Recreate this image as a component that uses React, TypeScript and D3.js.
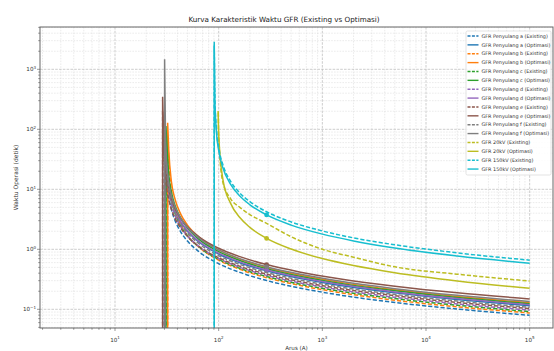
import React from "react";
import * as d3 from "d3";

// current grid (A) for the feeder relays and for the 20kV / 150kV relays
const feederCurrent = [30, 31, 33, 35, 38, 43, 50, 65, 100, 160, 290, 600, 1500, 5000, 20000, 100000];
const hvCurrent = [92, 95, 100, 110, 130, 160, 200, 290, 500, 1000, 2000, 5000, 20000, 100000];

// operating times (s)
const timeA_Existing = [null, 23.7, 7.6, 4.64, 3.0, 1.96, 1.37, 0.902, 0.576, 0.412, 0.302, 0.227, 0.172, 0.13, 0.101, 0.0795];
const timeA_Optimasi = [null, 34.4, 11.0, 6.72, 4.34, 2.83, 1.99, 1.31, 0.835, 0.597, 0.438, 0.329, 0.25, 0.189, 0.146, 0.115];
const timeB_Existing = [null, null, 30.9, 9.07, 4.56, 2.61, 1.71, 1.07, 0.66, 0.464, 0.336, 0.251, 0.189, 0.142, 0.11, 0.0867];
const timeB_Optimasi = [null, null, 45.7, 13.4, 6.75, 3.86, 2.53, 1.58, 0.977, 0.687, 0.498, 0.372, 0.281, 0.211, 0.163, 0.128];
const timeC_Existing = [null, null, 12.9, 6.63, 3.95, 2.45, 1.68, 1.08, 0.679, 0.482, 0.352, 0.264, 0.2, 0.151, 0.117, 0.0918];
const timeC_Optimasi = [null, null, 17.3, 8.93, 5.32, 3.3, 2.26, 1.45, 0.916, 0.65, 0.474, 0.355, 0.269, 0.203, 0.157, 0.124];
const timeD_Existing = [null, 28.9, 9.27, 5.65, 3.66, 2.39, 1.67, 1.1, 0.703, 0.503, 0.368, 0.277, 0.21, 0.159, 0.123, 0.097];
const timeD_Optimasi = [null, 35.6, 11.4, 6.95, 4.49, 2.93, 2.06, 1.35, 0.864, 0.618, 0.453, 0.341, 0.258, 0.195, 0.151, 0.119];
const timeE_Existing = [22.3, 12.4, 6.68, 4.66, 3.27, 2.26, 1.64, 1.11, 0.722, 0.522, 0.385, 0.291, 0.221, 0.168, 0.13, 0.103];
const timeE_Optimasi = [32.2, 17.9, 9.66, 6.74, 4.73, 3.27, 2.37, 1.6, 1.04, 0.754, 0.557, 0.42, 0.32, 0.242, 0.188, 0.149];
const timeF_Existing = [null, 32.3, 10.3, 6.3, 4.07, 2.66, 1.87, 1.23, 0.783, 0.56, 0.411, 0.309, 0.234, 0.177, 0.137, 0.108];
const timeF_Optimasi = [null, 40.3, 12.9, 7.88, 5.09, 3.32, 2.33, 1.53, 0.979, 0.7, 0.513, 0.386, 0.293, 0.221, 0.171, 0.135];
const time20_Existing = [null, null, 75, 13, 7.0, 5.0, 3.8, 2.7, 1.62, 1.0, 0.74, 0.51, 0.385, 0.296];
const time20_Optimasi = [null, null, 82.4, 14.4, 5.88, 3.38, 2.32, 1.52, 1.01, 0.7, 0.536, 0.407, 0.297, 0.224];
const time150_Existing = [324, 105, 50.2, 25.5, 13.7, 8.68, 6.22, 4.22, 2.86, 2.02, 1.55, 1.19, 0.871, 0.66];
const time150_Optimasi = [288, 92.8, 44.6, 22.6, 12.2, 7.7, 5.52, 3.74, 2.53, 1.79, 1.38, 1.05, 0.773, 0.585];

const seriesLabels = [
  "GFR Penyulang a (Existing)", "GFR Penyulang a (Optimasi)",
  "GFR Penyulang b (Existing)", "GFR Penyulang b (Optimasi)",
  "GFR Penyulang c (Existing)", "GFR Penyulang c (Optimasi)",
  "GFR Penyulang d (Existing)", "GFR Penyulang d (Optimasi)",
  "GFR Penyulang e (Existing)", "GFR Penyulang e (Optimasi)",
  "GFR Penyulang f (Existing)", "GFR Penyulang f (Optimasi)",
  "GFR 20kV (Existing)", "GFR 20kV (Optimasi)",
  "GFR 150kV (Existing)", "GFR 150kV (Optimasi)",
];
const seriesTimes = [
  timeA_Existing, timeA_Optimasi, timeB_Existing, timeB_Optimasi,
  timeC_Existing, timeC_Optimasi, timeD_Existing, timeD_Optimasi,
  timeE_Existing, timeE_Optimasi, timeF_Existing, timeF_Optimasi,
  time20_Existing, time20_Optimasi, time150_Existing, time150_Optimasi,
];
// pickup current (A) and the first (peak) time just above pickup
const pickupCurrent = [30.1, 30.1, 32.2, 32.2, 31.0, 31.0, 30.1, 30.1, 28.8, 28.8, 30.1, 30.1, 99.2, 98.8, 90.6, 90.6];
const peakTime = [60, 85, 75, 129, 55, 113, 65, 95, 200, 349, 110, 1468, 190, 202, 2500, 2880];
const faultCurrent = 290;

const colors = ["#1f77b4", "#ff7f0e", "#2ca02c", "#9467bd", "#8c564b", "#7f7f7f", "#bcbd22", "#17becf"];

const W = 554;
const H = 351;
const plot = { left: 40, right: 553, top: 27, bottom: 328 };
const font = "DejaVu Sans, sans-serif";

export default function App() {
  const x = d3.scaleLog().domain([1.89, 167900]).range([plot.left, plot.right]);
  const y = d3.scaleLog().domain([0.0488, 5070]).range([plot.bottom, plot.top]);

  const isMajor = (v: number) => Math.abs(Math.log10(v) - Math.round(Math.log10(v))) < 1e-9;
  const xTicks = x.ticks();
  const yTicks = y.ticks();

  const line = d3
    .line<[number, number]>()
    .x((d) => d[0])
    .y((d) => d[1])
    .curve(d3.curveMonotoneX);

  const curves = seriesLabels.map((label, i) => {
    const hv = i >= 12;
    const grid = hv ? hvCurrent : feederCurrent;
    const times = seriesTimes[i];
    const pts: [number, number][] = [[x(pickupCurrent[i]), y(peakTime[i])]];
    grid.forEach((c, k) => {
      const t = times[k];
      if (t != null && c > pickupCurrent[i]) pts.push([x(c), y(t)]);
    });
    let d = line(pts) || "";
    // relays below pickup drop off the log axis: vertical line to the bottom
    const drop = i < 12 || i >= 14;
    if (drop) d = `M${x(pickupCurrent[i])},${plot.bottom + 10}` + d.replace(/^M/, "L");
    const k = grid.indexOf(faultCurrent);
    return {
      label,
      d,
      color: colors[Math.floor(i / 2)],
      dashed: i % 2 === 0,
      marker: i % 2 === 1 ? [x(faultCurrent), y(times[k] as number)] : null,
    };
  });

  const legendX = 466;
  const legendY = 31;
  const rowH = 8.87;

  return (
    <svg
      width={W}
      height={H}
      style={{ position: "fixed", left: 0, top: 0, background: "#fff" }}
      fontFamily={font}
    >
      <defs>
        <clipPath id="plotClip">
          <rect x={plot.left} y={plot.top} width={plot.right - plot.left} height={plot.bottom - plot.top} />
        </clipPath>
      </defs>
      <rect width={W} height={H} fill="#fff" />

      {/* grid */}
      <g>
        {xTicks.map((v, i) => (
          <line
            key={"gx" + i}
            x1={x(v)}
            x2={x(v)}
            y1={plot.top}
            y2={plot.bottom}
            stroke={isMajor(v) ? "#b8b8b8" : "#d6d6d6"}
            strokeWidth={isMajor(v) ? 0.7 : 0.5}
            strokeDasharray={isMajor(v) ? "2.6,1.2" : "1.6,1.2"}
          />
        ))}
        {yTicks.map((v, i) => (
          <line
            key={"gy" + i}
            x1={plot.left}
            x2={plot.right}
            y1={y(v)}
            y2={y(v)}
            stroke={isMajor(v) ? "#b8b8b8" : "#d6d6d6"}
            strokeWidth={isMajor(v) ? 0.7 : 0.5}
            strokeDasharray={isMajor(v) ? "2.6,1.2" : "1.6,1.2"}
          />
        ))}
      </g>

      {/* curves */}
      <g clipPath="url(#plotClip)">
        {curves.map((c, i) => (
          <g key={"c" + i}>
            <path
              d={c.d}
              fill="none"
              stroke={c.color}
              strokeWidth={1.5}
              strokeDasharray={c.dashed ? "4.2,2" : undefined}
            />
            {c.marker && <circle cx={c.marker[0]} cy={c.marker[1]} r={2.4} fill={c.color} />}
          </g>
        ))}
      </g>

      {/* spines */}
      <rect
        x={plot.left}
        y={plot.top}
        width={plot.right - plot.left}
        height={plot.bottom - plot.top}
        fill="none"
        stroke="#666"
        strokeWidth={1}
      />

      {/* ticks */}
      {xTicks.map((v, i) => (
        <line
          key={"tx" + i}
          x1={x(v)}
          x2={x(v)}
          y1={plot.bottom}
          y2={plot.bottom + (isMajor(v) ? 3 : 1.8)}
          stroke="#555"
          strokeWidth={0.6}
        />
      ))}
      {yTicks.map((v, i) => (
        <line
          key={"ty" + i}
          x1={plot.left - (isMajor(v) ? 3 : 1.8)}
          x2={plot.left}
          y1={y(v)}
          y2={y(v)}
          stroke="#555"
          strokeWidth={0.6}
        />
      ))}
      {xTicks.filter(isMajor).map((v, i) => (
        <text key={"lx" + i} x={x(v)} y={342} fontSize={5.6} textAnchor="middle" fill="#333">
          10<tspan dy={-2.6} fontSize={4}>{Math.round(Math.log10(v))}</tspan>
        </text>
      ))}
      {yTicks.filter(isMajor).map((v, i) => {
        const e = Math.round(Math.log10(v));
        return (
          <text key={"ly" + i} x={36} y={y(v) + 2} fontSize={5.6} textAnchor="end" fill="#333">
            10<tspan dy={-2.6} fontSize={4}>{e < 0 ? "\u2212" + Math.abs(e) : e}</tspan>
          </text>
        );
      })}

      {/* labels */}
      <text x={284} y={21.5} fontSize={7.2} textAnchor="middle" fill="#222">
        Kurva Karakteristik Waktu GFR (Existing vs Optimasi)
      </text>
      <text x={(plot.left + plot.right) / 2} y={349.5} fontSize={5.6} textAnchor="middle" fill="#333">
        Arus (A)
      </text>
      <text
        transform={`translate(15.5,${(plot.top + plot.bottom) / 2}) rotate(-90)`}
        fontSize={6}
        textAnchor="middle"
        dominantBaseline="central"
        fill="#333"
      >
        Waktu Operasi (detik)
      </text>

      {/* legend */}
      <rect
        x={legendX}
        y={legendY}
        width={85}
        height={144}
        rx={1.5}
        fill="#fff"
        fillOpacity={0.85}
        stroke="#d0d0d0"
        strokeWidth={0.6}
      />
      {curves.map((c, i) => {
        const cy = legendY + 5 + i * rowH;
        return (
          <g key={"lg" + i}>
            <line
              x1={legendX + 1.5}
              x2={legendX + 12.5}
              y1={cy}
              y2={cy}
              stroke={c.color}
              strokeWidth={1.4}
              strokeDasharray={c.dashed ? "3,1.4" : undefined}
            />
            <text x={legendX + 15.5} y={cy + 1.7} fontSize={4.9} fill="#333">
              {c.label}
            </text>
          </g>
        );
      })}
    </svg>
  );
}
